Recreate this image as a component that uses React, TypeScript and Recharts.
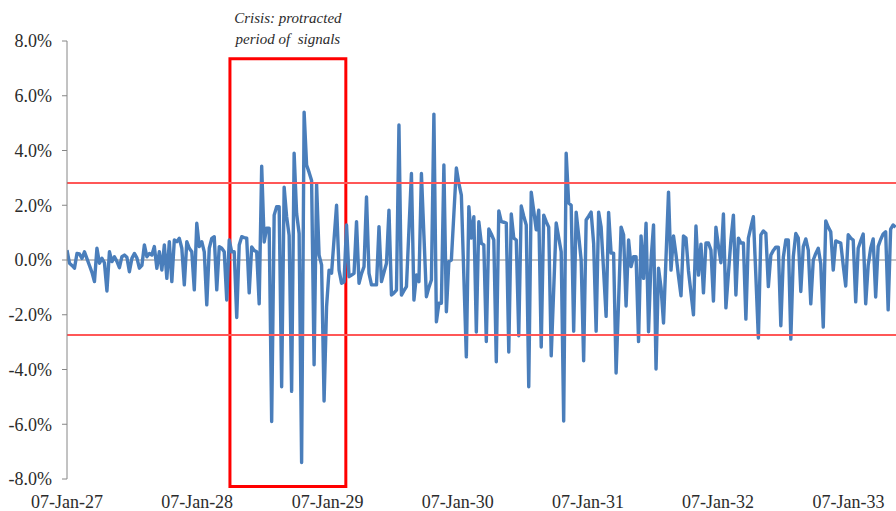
import React from 'react';
import { LineChart, Line, XAxis, YAxis, ReferenceLine, ReferenceArea } from 'recharts';

// weekly returns (%), first observation 07-Jan-27
const startDate = '2027-01-07';

const weeks2027 = [
  0.36, -0.12, -0.2, -0.3, 0.24, 0.22, 0.06, 0.3, 0.05, -0.2, -0.45, -0.79, 0.43,
  -0.12, 0.06, -0.1, -1.13, 0.3, -0.06, 0.12, -0.05, -0.28, 0.12, 0.18, 0.1, -0.43,
  0.06, 0.24, 0.08, -0.3, -0.2, 0.55, 0.12, 0.24, 0.18, 0.49, -0.3, 0.3, -0.37,
  0.55, -0.67, 0.67, -0.79, 0.73, 0.67, 0.79, 0.43, -0.91, 0.67, 0.43, 0.3, -1.09,
];
const weeks2028 = [
  1.34, 0.49, 0.67, 0.3, -1.64, 0.43, 0.79, 0.85, -1.09, 0.49, 0.43, 0.3, -1.46,
  0.73, 0.3, 0.3, -2.1, 0.55, 0.85, 0.82, 0.8, -1.2, 0.48, 0.35, 0.3, -1.6,
  3.43, 0.66, 1.16, 1.16, -5.9, 1.64, 1.95, 1.95, -4.63, 2.66, 1.58, 0.9, -4.8,
  3.9, 1.7, 0.97, -7.4, 5.4, 3.47, 3.2, 2.9, -3.83, 2.77, 0.18, -0.18, -5.15,
];
const weeks2029 = [
  -1.7, -0.37, -0.48, 0.76, 2.0, -0.37, -0.85, -0.8, 1.28, -0.61, -0.55, -0.49, 1.4,
  -0.85, -0.5, -0.24, 2.3, -0.49, -0.91, -0.91, -0.91, 1.22, -0.79, -0.45, -0.12, 1.82,
  -1.28, -1.2, -1.1, 4.93, -1.28, -1.12, -0.97, 1.1, 3.16, -1.46, -0.55, -0.79, 3.16,
  0.9, -1.34, -1.0, -0.73, 5.33, -2.26, -1.58, -1.58, 3.47, -1.89, -0.06, 0.0, 1.68,
];
const weeks2030 = [
  3.36, 2.8, 2.37, -0.6, -3.54, 1.95, 0.8, 1.58, -2.63, 1.4, 0.61, 0.55, -2.98,
  1.13, 0.95, 0.73, -3.72, 1.79, 1.4, 1.38, 1.35, -3.36, 1.68, 0.8, 0.73, -2.77,
  1.97, 1.6, 1.28, -4.63, 2.48, 1.8, 1.1, 1.82, -3.18, 1.64, 1.4, 1.2, -3.5,
  -1.08, 1.35, 0.82, 0.3, -5.88, 3.9, 2.08, 2.0, -2.6, 1.75, 0.9, 0.0, -3.68,
];
const weeks2031 = [
  1.46, 1.6, 1.75, 0.61, -2.6, 1.75, 1.2, -0.4, -2.06, 1.74, 0.25, 0.25, -4.13,
  -1.5, 1.2, 0.92, -1.68, 0.73, -0.24, 0.12, 0.12, -2.98, 0.88, -0.67, 1.34, -2.62,
  0.0, 1.28, -3.98, -0.3, -1.0, -2.3, 0.1, 2.48, -0.37, 0.88, 0.2, -0.6, -1.31,
  0.88, 0.8, -0.4, -1.2, -2.0, 1.24, -0.55, 0.58, -1.2, 0.62, 0.62, 0.36, -1.5,
];
const weeks2032 = [
  1.2, 0.5, -0.1, 1.68, -1.75, -0.5, 0.73, 1.64, -1.28, 0.8, 0.62, 0.62, -2.16,
  0.8, 1.2, 1.58, -0.6, -2.85, 0.92, 1.06, 0.98, -0.97, 0.18, 0.35, 0.47, 0.47,
  -2.4, 0.1, 0.73, 0.73, -2.89, 0.12, 0.97, 0.8, -1.15, 0.49, 0.77, 0.36, -1.6,
  0.0, 0.24, 0.43, -0.14, -2.45, 1.43, 1.2, 1.03, -0.37, 0.7, 0.66, 0.62, -0.2,
];
const weeks2033 = [
  -0.95, 0.92, 0.8, 0.73, -1.53, 0.43, 0.7, 0.95, -1.6, -0.2, 0.43, 0.77, -1.35,
  0.5, 0.75, 0.95, 1.03, -1.82, 1.13, 1.28, 1.2,
];

const tickDates = ['2027-01-07', '2028-01-07', '2029-01-07', '2030-01-07', '2031-01-07', '2032-01-07', '2033-01-07'];
const tickLabels = ['07-Jan-27', '07-Jan-28', '07-Jan-29', '07-Jan-30', '07-Jan-31', '07-Jan-32', '07-Jan-33'];
const yTicks = [-8, -6, -4, -2, 0, 2, 4, 6, 8];

// signal thresholds (%)
const upperBand = 2.81;
const lowerBand = -2.74;

// crisis box
const crisisStart = '2028-04-08';
const crisisEnd = '2029-02-27';
const crisisTop = 7.35;
const crisisBottom = -8.27;
const crisisText = ['Crisis: protracted', 'period of  signals'];

const DAY_MS = 86400000;
const dayOffset = (d: string) => Math.round((Date.parse(d) - Date.parse(startDate)) / DAY_MS);

const returns = [...weeks2027, ...weeks2028, ...weeks2029, ...weeks2030, ...weeks2031, ...weeks2032, ...weeks2033];
const data = returns.map((v, i) => ({ day: i * 7, value: v }));
const tickDays = tickDates.map(dayOffset);

const FONT = '"Liberation Serif", "Times New Roman", serif';
const TEXT = '#2b2b2b';
const AXIS = '#868686';

const crisisLabel = (props: any) => {
  const { x, y, width } = props.viewBox;
  const cx = x + width / 2;
  return (
    <g>
      <text x={cx} y={y - 36} textAnchor="middle" fontStyle="italic" fontSize={15} fill={TEXT} fontFamily={FONT} style={{ whiteSpace: 'pre' }}>
        {crisisText[0]}
      </text>
      <text x={cx} y={y - 15} textAnchor="middle" fontStyle="italic" fontSize={15} fill={TEXT} fontFamily={FONT} style={{ whiteSpace: 'pre' }}>
        {crisisText[1]}
      </text>
    </g>
  );
};

export default function App() {
  return (
    <div style={{ position: 'absolute', left: 0, top: 0, width: 896, height: 511, background: '#fff' }}>
      <LineChart width={896} height={511} data={data} margin={{ top: 41, right: 0, bottom: 0, left: 0 }} style={{ fontFamily: FONT }}>
        <XAxis
          type="number"
          dataKey="day"
          domain={[0, 2325]}
          allowDataOverflow
          ticks={tickDays}
          tickFormatter={(d: number) => tickLabels[tickDays.indexOf(d)] ?? ''}
          axisLine={false}
          tickLine={false}
          tickSize={6}
          tickMargin={10}
          height={32}
          interval={0}
          tick={{ fill: TEXT, fontSize: 18, fontFamily: FONT }}
        />
        <YAxis
          type="number"
          domain={[-8, 8]}
          ticks={yTicks}
          interval={0}
          width={67}
          tickFormatter={(v: number) => v.toFixed(1) + '%'}
          axisLine={{ stroke: AXIS }}
          tickLine={{ stroke: AXIS }}
          tickSize={5}
          tickMargin={10}
          tick={{ fill: TEXT, fontSize: 18, fontFamily: FONT }}
        />
        <ReferenceLine y={0} stroke={AXIS} strokeWidth={1} />
        <Line
          type="linear"
          dataKey="value"
          stroke="#4a7ebb"
          strokeWidth={3.4}
          strokeLinejoin="round"
          dot={false}
          activeDot={false}
          isAnimationActive={false}
        />
        <ReferenceLine y={upperBand} stroke="#ff5757" strokeWidth={2} />
        <ReferenceLine y={lowerBand} stroke="#ff5757" strokeWidth={2} />
        <ReferenceArea
          x1={dayOffset(crisisStart)}
          x2={dayOffset(crisisEnd)}
          y1={crisisBottom}
          y2={crisisTop}
          ifOverflow="visible"
          fill="none"
          fillOpacity={0}
          stroke="#ff0000"
          strokeWidth={3}
          strokeOpacity={1}
          label={crisisLabel}
        />
      </LineChart>
    </div>
  );
}
